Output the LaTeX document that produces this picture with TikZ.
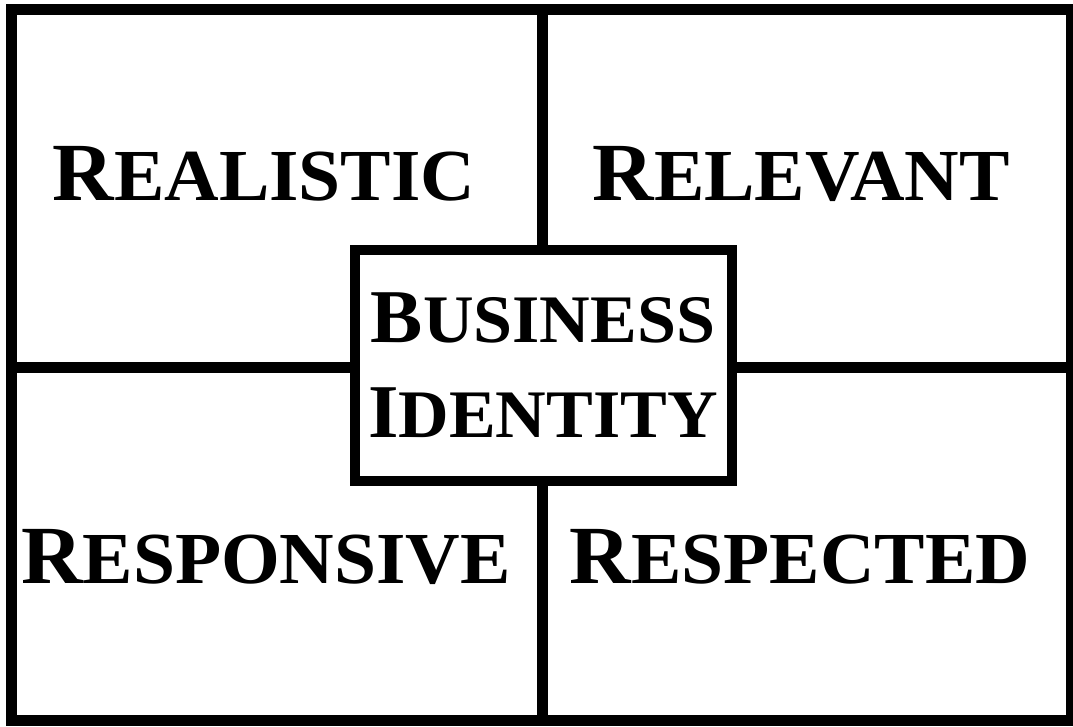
\documentclass[tikz,border=0pt]{standalone}
\usepackage{fontspec}
\setmainfont{Liberation Serif}
\newcommand{\capword}[2]{{\fontsize{62}{62}\selectfont #1}{\fontsize{55}{55}\selectfont #2}}
\newcommand{\capsmall}[2]{{\fontsize{57}{57}\selectfont #1}{\fontsize{51}{51}\selectfont #2}}
\tikzset{
  frame/.style={line width=8.25pt},
  word/.style={anchor=base, inner sep=0pt, font=\bfseries, xscale=1.03}
}
\begin{document}
\begin{tikzpicture}[x=0.75pt, y=-0.75pt]
\useasboundingbox (0,0) rectangle (1073,726);
% Frame and cross
\draw[frame] (11,9.5) rectangle (1071.5,720.5);
\draw[frame] (542.5,9.5) -- (542.5,720.5);
\draw[frame] (11,367) -- (1071.5,367);
% Quadrant labels
\node[word] (realistic) at (264,200) {\capword{R}{EALISTIC}};
\node[word] (relevant) at (801,200) {\capword{R}{ELEVANT}};
\node[word] (responsive) at (266,583) {\capword{R}{ESPONSIVE}};
\node[word] (respected) at (800,583) {\capword{R}{ESPECTED}};
% Centre box
\filldraw[fill=white, line width=7.5pt] (355,250) rectangle (731.5,481);
\node[word] (business) at (543,342) {\capsmall{B}{USINESS}};
\node[word] (identity) at (543,437) {\capsmall{I}{DENTITY}};
\end{tikzpicture}
\end{document}
